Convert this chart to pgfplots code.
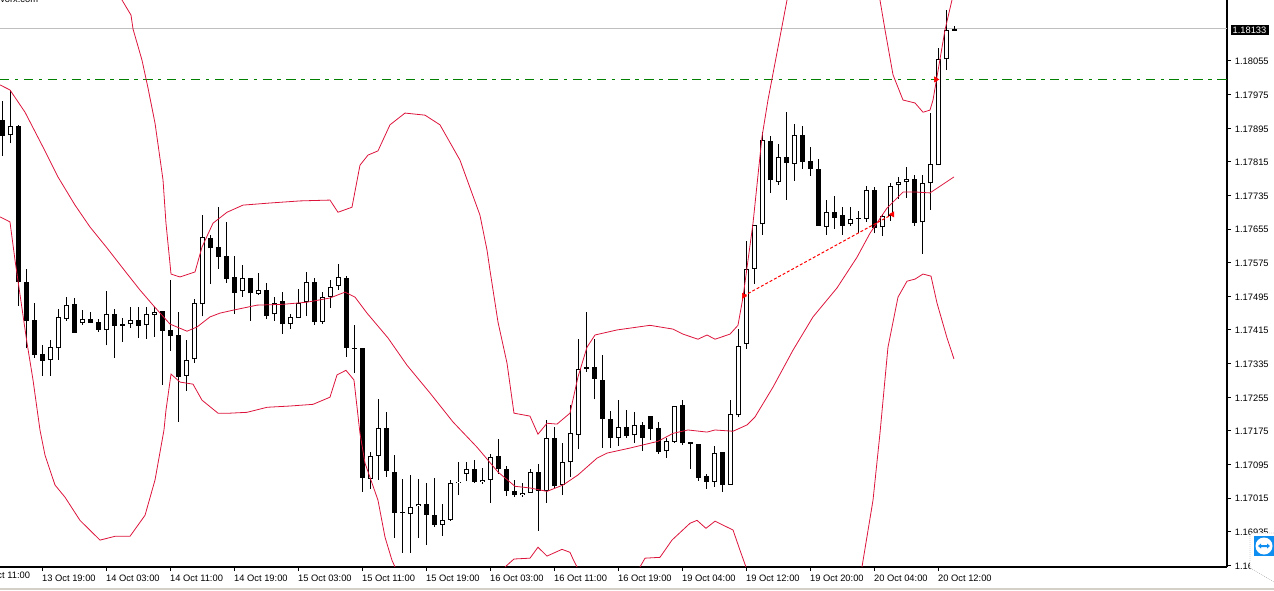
\documentclass[border=0pt]{standalone}
\usepackage{fontspec}
\setmainfont{Liberation Sans}
\usepackage{pgfplots}
\pgfplotsset{compat=1.18}
\definecolor{band}{RGB}{220,20,60}
\definecolor{levelgreen}{RGB}{0,128,0}
\definecolor{framegray}{RGB}{212,208,200}
\definecolor{tvblue}{RGB}{14,142,240}

% candle helpers: index, low, body bottom, body top, high
\newcommand{\bear}[5]{%
  \addplot[black,line width=0.75pt,forget plot] coordinates {(#1,#2) (#1,#5)};
  \addplot[black,line width=3.75pt,forget plot] coordinates {(#1,#3) (#1,#4)};
}
\newcommand{\bull}[5]{%
  \addplot[black,line width=0.75pt,forget plot] coordinates {(#1,#2) (#1,#5)};
  \addplot[black,line width=3.75pt,forget plot] coordinates {(#1,#3) (#1,#4)};
  \addplot[white,line width=2.25pt,shorten >=0.75pt,shorten <=0.75pt,forget plot] coordinates {(#1,#3) (#1,#4)};
}

\begin{document}
\begin{tikzpicture}
\useasboundingbox (0,-17.25pt) rectangle (955.5pt,425.25pt);
\begin{axis}[
    scale only axis,
    width=920.25pt,
    height=425.25pt,
    xmin=-0.2875, xmax=153.09,
    ymin=1.16851, ymax=1.18200,
    axis x line=bottom,
    axis y line=right,
    axis line style={-,line width=0.9pt},
    tick style={black,line width=0.75pt},
    tick align=outside,
    major tick length=3pt,
    font=\fontsize{7}{9}\selectfont,
    xtick={5,13,21,29,37,45,53,61,69,77,85,93,101,109,117},
    xticklabels={13 Oct 19:00,14 Oct 03:00,14 Oct 11:00,14 Oct 19:00,15 Oct 03:00,15 Oct 11:00,15 Oct 19:00,16 Oct 03:00,16 Oct 11:00,16 Oct 19:00,19 Oct 04:00,19 Oct 12:00,19 Oct 20:00,20 Oct 04:00,20 Oct 12:00},
    x tick label style={anchor=north west,xshift=-3.6pt,yshift=0.5pt},
    ytick={1.16855,1.16935,1.17015,1.17095,1.17175,1.17255,1.17335,1.17415,1.17495,1.17575,1.17655,1.17735,1.17815,1.17895,1.17975,1.18055},
    scaled y ticks=false,
    y tick label style={xshift=-0.6pt,yshift=-0.5pt,/pgf/number format/.cd,fixed,fixed zerofill,precision=5,assume math mode=true},
]
% reference levels
\addplot[color=black!25,line width=0.75pt,forget plot] coordinates {(-0.2875,1.18133) (153.09,1.18133)};
\addplot[color=levelgreen,line width=0.75pt,dash pattern=on 7pt off 4.2pt on 2.5pt off 4.2pt,forget plot] coordinates {(-0.2875,1.18012) (153.09,1.18012)};

% candles
\bear{0}{1.17830}{1.17877}{1.17915}{1.17960}
\bull{1}{1.17859}{1.17878}{1.17900}{1.17986}
\bear{2}{1.17472}{1.17530}{1.17900}{1.17903}
\bear{3}{1.17371}{1.17437}{1.17529}{1.17560}
\bear{4}{1.17349}{1.17355}{1.17439}{1.17478}
\bear{5}{1.17306}{1.17342}{1.17357}{1.17378}
\bull{6}{1.17306}{1.17343}{1.17374}{1.17391}
\bull{7}{1.17344}{1.17371}{1.17445}{1.17466}
\bull{8}{1.17437}{1.17442}{1.17474}{1.17493}
\bear{9}{1.17408}{1.17408}{1.17477}{1.17490}
\bull{10}{1.17427}{1.17431}{1.17440}{1.17462}
\bear{11}{1.17431}{1.17432}{1.17440}{1.17457}
\bear{12}{1.17411}{1.17415}{1.17433}{1.17440}
\bull{13}{1.17378}{1.17416}{1.17454}{1.17508}
\bear{14}{1.17349}{1.17425}{1.17454}{1.17466}
\bear{15}{1.17387}{1.17425}{1.17428}{1.17443}
\bull{16}{1.17420}{1.17428}{1.17438}{1.17470}
\bear{17}{1.17397}{1.17425}{1.17438}{1.17469}
\bull{18}{1.17394}{1.17426}{1.17454}{1.17469}
\bull{19}{1.17399}{1.17451}{1.17457}{1.17470}
\bear{20}{1.17284}{1.17413}{1.17459}{1.17460}
\bear{21}{1.17365}{1.17401}{1.17415}{1.17534}
\bear{22}{1.17197}{1.17304}{1.17402}{1.17457}
\bull{23}{1.17270}{1.17306}{1.17343}{1.17391}
\bull{24}{1.17337}{1.17345}{1.17478}{1.17488}
\bull{25}{1.17447}{1.17476}{1.17635}{1.17688}
\bear{26}{1.17525}{1.17609}{1.17633}{1.17642}
\bear{27}{1.17560}{1.17589}{1.17612}{1.17707}
\bear{28}{1.17527}{1.17537}{1.17591}{1.17673}
\bear{29}{1.17454}{1.17504}{1.17540}{1.17592}
\bull{30}{1.17494}{1.17507}{1.17538}{1.17569}
\bear{31}{1.17437}{1.17502}{1.17538}{1.17539}
\bull{32}{1.17498}{1.17501}{1.17509}{1.17550}
\bear{33}{1.17441}{1.17449}{1.17509}{1.17526}
\bull{34}{1.17437}{1.17452}{1.17478}{1.17493}
\bear{35}{1.17406}{1.17428}{1.17483}{1.17505}
\bull{36}{1.17418}{1.17430}{1.17445}{1.17454}
\bull{37}{1.17443}{1.17443}{1.17480}{1.17512}
\bull{38}{1.17448}{1.17481}{1.17528}{1.17554}
\bear{39}{1.17427}{1.17435}{1.17528}{1.17538}
\bull{40}{1.17429}{1.17435}{1.17493}{1.17505}
\bull{41}{1.17468}{1.17494}{1.17518}{1.17534}
\bull{42}{1.17511}{1.17519}{1.17540}{1.17573}
\bear{43}{1.17351}{1.17373}{1.17538}{1.17543}
\bear{44}{1.17313}{1.17370}{1.17372}{1.17426}
\bear{45}{1.17030}{1.17063}{1.17371}{1.17372}
\bull{46}{1.17037}{1.17061}{1.17116}{1.17124}
\bull{47}{1.17058}{1.17116}{1.17181}{1.17250}
\bear{48}{1.17066}{1.17080}{1.17181}{1.17219}
\bear{49}{1.16920}{1.16980}{1.17078}{1.17117}
\bear{50}{1.16885}{1.16980}{1.16981}{1.17060}
\bull{51}{1.16885}{1.16977}{1.16993}{1.17070}
\bull{52}{1.16920}{1.16995}{1.17000}{1.17060}
\bear{53}{1.16903}{1.16975}{1.17000}{1.17051}
\bear{54}{1.16947}{1.16951}{1.16974}{1.17062}
\bull{55}{1.16925}{1.16951}{1.16964}{1.17002}
\bull{56}{1.16961}{1.16963}{1.17050}{1.17058}
\bull{57}{1.17022}{1.17050}{1.17054}{1.17100}
\bull{58}{1.17055}{1.17073}{1.17085}{1.17100}
\bear{59}{1.17051}{1.17054}{1.17083}{1.17105}
\bull{60}{1.17048}{1.17054}{1.17059}{1.17086}
\bull{61}{1.17004}{1.17059}{1.17112}{1.17121}
\bear{62}{1.17072}{1.17084}{1.17114}{1.17155}
\bear{63}{1.17020}{1.17032}{1.17083}{1.17091}
\bear{64}{1.17017}{1.17022}{1.17033}{1.17058}
\bull{65}{1.17018}{1.17023}{1.17028}{1.17050}
\bull{66}{1.17028}{1.17028}{1.17078}{1.17085}
\bear{67}{1.16937}{1.17032}{1.17078}{1.17096}
\bull{68}{1.17004}{1.17031}{1.17159}{1.17200}
\bear{69}{1.17039}{1.17043}{1.17159}{1.17184}
\bull{70}{1.17022}{1.17045}{1.17100}{1.17146}
\bull{71}{1.17066}{1.17100}{1.17169}{1.17236}
\bull{72}{1.17131}{1.17166}{1.17323}{1.17393}
\bear{73}{1.17315}{1.17323}{1.17326}{1.17457}
\bear{74}{1.17250}{1.17299}{1.17326}{1.17393}
\bear{75}{1.17135}{1.17204}{1.17297}{1.17355}
\bear{76}{1.17135}{1.17159}{1.17204}{1.17222}
\bull{77}{1.17140}{1.17159}{1.17185}{1.17248}
\bear{78}{1.17158}{1.17163}{1.17185}{1.17224}
\bull{79}{1.17147}{1.17164}{1.17190}{1.17219}
\bear{80}{1.17127}{1.17158}{1.17188}{1.17195}
\bear{81}{1.17153}{1.17180}{1.17210}{1.17210}
\bear{82}{1.17120}{1.17125}{1.17181}{1.17196}
\bull{83}{1.17111}{1.17126}{1.17150}{1.17157}
\bull{84}{1.17147}{1.17149}{1.17233}{1.17233}
\bear{85}{1.17142}{1.17146}{1.17236}{1.17248}
\bear{86}{1.17085}{1.17144}{1.17148}{1.17148}
\bear{87}{1.17056}{1.17063}{1.17143}{1.17143}
\bear{88}{1.17037}{1.17054}{1.17067}{1.17072}
\bull{89}{1.17042}{1.17054}{1.17123}{1.17139}
\bear{90}{1.17030}{1.17047}{1.17124}{1.17124}
\bull{91}{1.17047}{1.17047}{1.17214}{1.17248}
\bull{92}{1.17207}{1.17212}{1.17376}{1.17417}
\bull{93}{1.17370}{1.17381}{1.17559}{1.17626}
\bull{94}{1.17525}{1.17561}{1.17664}{1.17664}
\bull{95}{1.17641}{1.17666}{1.17866}{1.17886}
\bear{96}{1.17741}{1.17771}{1.17864}{1.17876}
\bull{97}{1.17760}{1.17768}{1.17826}{1.17857}
\bear{98}{1.17725}{1.17813}{1.17826}{1.17933}
\bull{99}{1.17770}{1.17811}{1.17878}{1.17905}
\bear{100}{1.17798}{1.17815}{1.17879}{1.17900}
\bear{101}{1.17782}{1.17799}{1.17817}{1.17850}
\bear{102}{1.17663}{1.17663}{1.17797}{1.17821}
\bull{103}{1.17641}{1.17661}{1.17695}{1.17724}
\bear{104}{1.17656}{1.17682}{1.17695}{1.17733}
\bear{105}{1.17641}{1.17663}{1.17688}{1.17707}
\bull{106}{1.17662}{1.17666}{1.17678}{1.17707}
\bear{107}{1.17646}{1.17680}{1.17681}{1.17697}
\bull{108}{1.17672}{1.17680}{1.17747}{1.17757}
\bear{109}{1.17645}{1.17658}{1.17747}{1.17755}
\bull{110}{1.17638}{1.17659}{1.17685}{1.17692}
\bull{111}{1.17675}{1.17685}{1.17757}{1.17764}
\bull{112}{1.17727}{1.17759}{1.17766}{1.17779}
\bull{113}{1.17730}{1.17766}{1.17773}{1.17803}
\bear{114}{1.17663}{1.17670}{1.17773}{1.17784}
\bull{115}{1.17596}{1.17671}{1.17764}{1.17784}
\bull{116}{1.17701}{1.17764}{1.17809}{1.17931}
\bull{117}{1.17807}{1.17807}{1.18060}{1.18086}
\bull{118}{1.18033}{1.18059}{1.18128}{1.18176}
\bear{119}{1.18127}{1.18127}{1.18131}{1.18138}

% bands: middle
\addplot[color=band,line width=0.6pt,forget plot] coordinates {
(-0.29,1.17998) (0.96,1.17986) (2.84,1.17933) (5.09,1.17850) (6.96,1.17779) (9.09,1.17712) (10.96,1.17660) (13.09,1.17610) (15.34,1.17555) (17.21,1.17510) (18.84,1.17474) (20.96,1.17429) (23.09,1.17412) (24.34,1.17422) (25.96,1.17446) (27.21,1.17455) (28.84,1.17462) (31.84,1.17474) (35.09,1.17476) (38.09,1.17481) (40.96,1.17491) (42.84,1.17505) (44.09,1.17493) (45.59,1.17455) (48.21,1.17396) (50.59,1.17331) (53.46,1.17265) (56.34,1.17196) (59.34,1.17136) (61.96,1.17077) (64.09,1.17043) (65.96,1.17039) (68.09,1.17031) (70.09,1.17046) (71.96,1.17070) (74.34,1.17110) (75.59,1.17122) (78.46,1.17134) (81.96,1.17150) (83.84,1.17169) (85.71,1.17177) (88.09,1.17172) (89.09,1.17177) (91.34,1.17174) (93.09,1.17189) (94.09,1.17208) (96.34,1.17279) (98.84,1.17367) (101.34,1.17446) (104.34,1.17515) (106.84,1.17588) (108.46,1.17645) (110.59,1.17705) (112.59,1.17743) (114.34,1.17743) (115.96,1.17741) (117.46,1.17760) (118.96,1.17779)
};
% upper
\addplot[color=band,line width=0.6pt,forget plot] coordinates {
(14.96,1.18200) (16.09,1.18164) (16.34,1.18131) (17.46,1.18057) (18.21,1.17991) (19.09,1.17907) (20.09,1.17772) (20.46,1.17669) (21.09,1.17548) (22.21,1.17541) (24.09,1.17553) (24.96,1.17612) (26.34,1.17669) (28.09,1.17695) (30.09,1.17712) (33.46,1.17717) (37.21,1.17722) (40.96,1.17724) (41.96,1.17695) (43.71,1.17707) (44.71,1.17807) (45.71,1.17831) (46.96,1.17841) (48.46,1.17903) (50.34,1.17931) (52.84,1.17926) (54.71,1.17903) (57.21,1.17819) (59.71,1.17688) (60.59,1.17605) (60.96,1.17557) (61.96,1.17434) (63.09,1.17336) (63.96,1.17217) (65.96,1.17210) (66.96,1.17167) (68.09,1.17193) (69.34,1.17191) (70.96,1.17217) (71.96,1.17303) (73.09,1.17374) (74.09,1.17403) (76.84,1.17415) (80.96,1.17426) (83.84,1.17417) (85.09,1.17405) (86.96,1.17393) (88.09,1.17403) (89.09,1.17393) (90.96,1.17405) (91.96,1.17426) (92.59,1.17493) (93.84,1.17669) (94.96,1.17874) (95.71,1.17962) (98.09,1.18200)
};
\addplot[color=band,line width=0.6pt,forget plot] coordinates {
(109.71,1.18200) (110.34,1.18129) (111.34,1.18022) (112.59,1.17962) (114.09,1.17955) (115.09,1.17933) (115.96,1.17938) (116.34,1.17962) (117.84,1.18129) (118.71,1.18200)
};
% lower
\addplot[color=band,line width=0.6pt,forget plot] coordinates {
(-0.29,1.17684) (0.96,1.17672) (1.59,1.17581) (3.09,1.17384) (3.84,1.17296) (4.71,1.17177) (5.34,1.17117) (6.59,1.17046) (7.84,1.17017) (9.71,1.16962) (12.21,1.16915) (14.09,1.16924) (15.96,1.16924) (17.84,1.16974) (19.09,1.17058) (20.21,1.17177) (20.46,1.17224) (21.09,1.17310) (22.21,1.17291) (23.84,1.17286) (24.96,1.17248) (26.96,1.17217) (28.46,1.17217) (30.59,1.17219) (33.09,1.17231) (35.96,1.17234) (38.84,1.17238) (40.96,1.17255) (41.84,1.17308) (42.96,1.17319) (43.96,1.17296) (44.71,1.17169) (45.34,1.17098) (46.96,1.17010) (47.84,1.16922) (48.71,1.16867) (49.09,1.16851)
};
\addplot[color=band,line width=0.6pt,forget plot] coordinates {
(62.84,1.16851) (63.96,1.16870) (65.96,1.16872) (66.96,1.16898) (68.09,1.16877) (69.96,1.16893) (70.96,1.16886) (71.34,1.16870) (71.84,1.16851)
};
\addplot[color=band,line width=0.6pt,forget plot] coordinates {
(79.71,1.16851) (80.34,1.16872) (82.21,1.16874) (83.71,1.16915) (85.96,1.16955) (86.84,1.16962) (87.96,1.16943) (89.09,1.16960) (91.34,1.16939) (92.21,1.16891) (92.96,1.16851)
};
\addplot[color=band,line width=0.6pt,forget plot] coordinates {
(107.46,1.16851) (108.84,1.17010) (109.71,1.17169) (110.71,1.17374) (111.96,1.17493) (113.09,1.17531) (114.09,1.17536) (115.09,1.17548) (116.09,1.17543) (116.84,1.17479) (118.09,1.17396) (118.96,1.17346)
};

% trades
\addplot[color=red,line width=0.75pt,dash pattern=on 2.2pt off 1.5pt,forget plot] coordinates {(92.68,1.17496) (111.25,1.17690)};
\addplot[only marks,color=red,mark=triangle*,mark size=2.2pt,mark options={rotate=-90},forget plot] coordinates {(92.68,1.17496) (116.7,1.18011)};
\addplot[only marks,color=red,mark=triangle*,mark size=2.2pt,mark options={rotate=90},forget plot] coordinates {(111.25,1.17690)};
\end{axis}

% window furniture, in image pixels from the top left corner
\begin{scope}[x=0.75pt,y=-0.75pt,shift={(0,425.25pt)},font=\fontsize{7}{9}\selectfont]
\node[anchor=base west,inner sep=0pt] at (0,3) {vorx.com};
\node[anchor=north west,inner sep=0pt] at (-23,572) {13 Oct 11:00};
\node[fill=black,text=white,inner sep=0pt,minimum width=28.5pt,minimum height=7.5pt] at (1249.5,30) {1.18133};
\fill[framegray] (0,588) rectangle (1274,590);
\fill[white,draw=black!30,line width=0.5pt,densely dotted] (1274,533) -- (1254,533) .. controls (1251,533) .. (1250,536) -- (1250,566) .. controls (1250,568) .. (1252,569) -- (1274,582);
\fill[tvblue] (1254,536) rectangle (1274,556);
\fill[white] (1264,546) circle (8.5);
\fill[tvblue] (1258,546) -- (1261,543.5) -- (1261,545) -- (1267,545) -- (1267,543.5) -- (1270,546) -- (1267,548.5) -- (1267,547) -- (1261,547) -- (1261,548.5) -- cycle;
\end{scope}
\end{tikzpicture}
\end{document}
